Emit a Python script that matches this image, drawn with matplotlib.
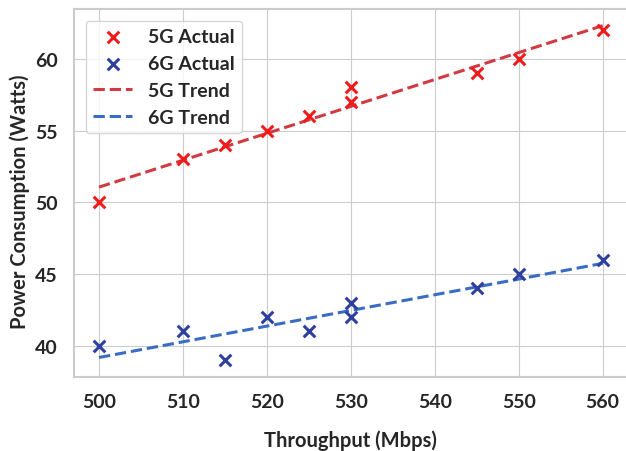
import numpy as np
import matplotlib.pyplot as plt
import seaborn as sns

# Throughput (Mbps) and measured power (Watts)
throughput = [500, 510, 515, 520, 525, 530, 530, 545, 550, 560]
power_5g = [50, 53, 54, 55, 56, 57, 58, 59, 60, 62]
power_6g = [40, 41, 39, 42, 41, 42, 43, 44, 45, 46]

sns.set_style('whitegrid')
plt.rcParams['font.family'] = ['Lato', 'DejaVu Sans']
plt.rcParams['font.weight'] = 'bold'

fig, ax = plt.subplots(figsize=(6.26, 4.52), dpi=100)
fig.subplots_adjust(left=0.118, right=1.003, bottom=0.164, top=0.978)

ax.scatter(throughput, power_5g, marker='x', color='#f01c1c', s=70, linewidths=2.2, label='5G Actual', zorder=3)
ax.scatter(throughput, power_6g, marker='x', color='#2f3fa0', s=70, linewidths=2.2, label='6G Actual', zorder=3)

# Linear trend lines
x = np.array(throughput)
x_line = np.linspace(x.min(), x.max(), 50)
fit5 = np.polyfit(x, power_5g, 1)
fit6 = np.polyfit(x, power_6g, 1)
ax.plot(x_line, np.polyval(fit5, x_line), '--', color='#d03a40', linewidth=2.2, label='5G Trend')
ax.plot(x_line, np.polyval(fit6, x_line), '--', color='#3a6cc4', linewidth=2.2, label='6G Trend')

ax.set_xlabel('Throughput (Mbps)', fontsize=14.5, fontweight='bold', labelpad=14)
ax.set_ylabel('Power Consumption (Watts)', fontsize=14.5, fontweight='bold')
ax.yaxis.set_label_coords(-0.079, 0.48)
ax.tick_params(labelsize=14, pad=8)
for lbl in ax.get_xticklabels() + ax.get_yticklabels():
    lbl.set_fontweight('bold')
ax.set_yticks([40, 45, 50, 55, 60])

for sp in ax.spines.values():
    sp.set_color('#cccccc')
    sp.set_linewidth(1.5)

leg = ax.legend(loc='upper left', fontsize=14, frameon=True, borderaxespad=0.6)
for t in leg.get_texts():
    t.set_fontweight('bold')

plt.savefig('out.png', dpi=100)
